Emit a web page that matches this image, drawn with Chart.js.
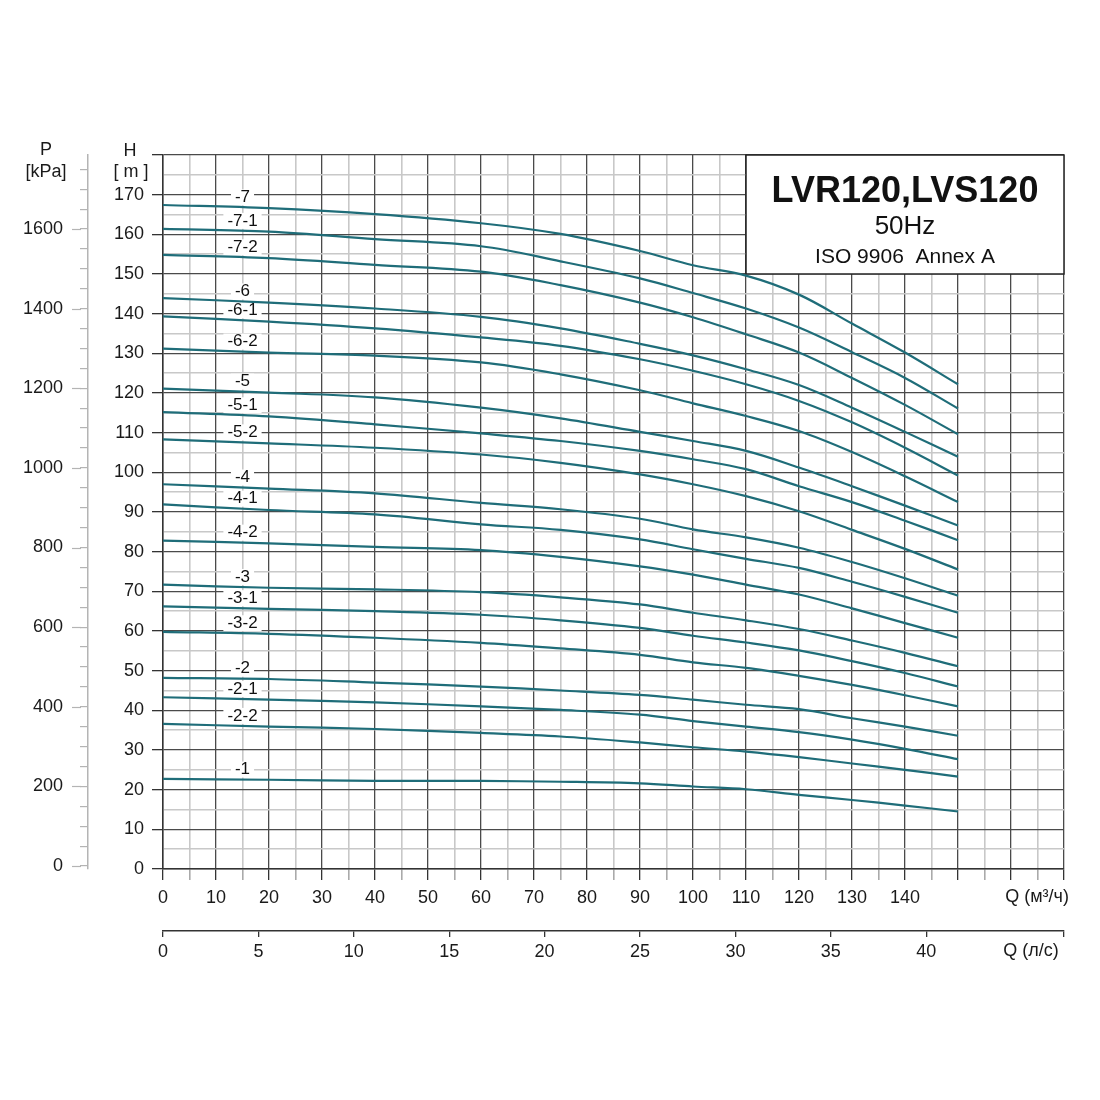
<!DOCTYPE html>
<html>
<head>
<meta charset="utf-8">
<title>LVR120, LVS120 50Hz</title>
<script src="https://cdn.jsdelivr.net/npm/chart.js@4.4.1/dist/chart.umd.min.js"></script>
<style>
  html, body { margin: 0; padding: 0; background: #fff; }
  #wrap { width: 1100px; height: 1100px; }
</style>
</head>
<body>
<div id="wrap"><canvas id="curves" width="1100" height="1100"></canvas></div>
<script>
// Q-H performance curves, LVR120 / LVS120, 50 Hz

const flow = [0, 20, 40, 60, 75, 90, 100, 110, 120, 130, 140, 150];   // m³/h

const head7   = [167.4, 166.6, 165.1, 162.8, 160.1, 155.8, 152.2, 149.6, 144.8, 137.5, 130.2, 122.2];
const head7_1 = [161.4, 160.7, 158.8, 157.0, 153.2, 148.9, 145.2, 141.3, 136.5, 130.3, 123.8, 116.1];
const head7_2 = [154.8, 154.0, 152.3, 150.6, 147.2, 142.8, 139.1, 134.8, 130.2, 123.8, 117.0, 109.6];
const head6   = [143.9, 142.8, 141.3, 139.2, 136.3, 132.4, 129.5, 126.0, 122.0, 116.3, 110.2, 103.9];
const head6_1 = [139.3, 138.0, 136.3, 134.0, 131.9, 128.5, 125.6, 122.2, 118.0, 112.6, 106.2, 99.2];
const head6_2 = [131.2, 130.2, 129.4, 127.7, 124.7, 120.7, 117.4, 114.2, 110.4, 105.1, 99.0, 92.5];
const head5   = [121.1, 120.1, 118.9, 116.3, 113.6, 110.2, 107.9, 105.4, 101.2, 96.5, 91.6, 86.6];
const head5_1 = [115.2, 114.1, 112.1, 109.8, 107.9, 105.4, 103.3, 100.8, 96.5, 92.5, 87.8, 82.9];
const head5_2 = [108.3, 107.3, 106.2, 104.5, 102.4, 99.5, 97.0, 94.0, 90.2, 85.5, 80.7, 75.5];
const head4   = [97.0, 95.9, 94.7, 92.3, 90.7, 88.3, 85.6, 83.6, 81.0, 77.4, 73.3, 68.9];
const head4_1 = [91.9, 90.5, 89.4, 86.9, 85.5, 83.1, 80.6, 78.2, 75.9, 72.4, 68.6, 64.6];
const head4_2 = [82.8, 82.1, 81.2, 80.4, 78.7, 76.3, 74.2, 71.7, 69.2, 65.7, 62.0, 58.3];
const head3   = [71.7, 70.9, 70.5, 69.8, 68.5, 66.7, 64.6, 62.7, 60.5, 57.6, 54.5, 51.1];
const head3_1 = [66.2, 65.6, 65.0, 64.1, 62.7, 60.8, 58.8, 57.1, 55.1, 52.4, 49.4, 46.0];
const head3_2 = [59.8, 59.3, 58.3, 57.0, 55.6, 54.0, 52.1, 50.7, 48.7, 46.4, 43.8, 41.0];
const head2   = [48.2, 47.9, 47.0, 46.0, 45.0, 43.9, 42.7, 41.4, 40.3, 38.0, 35.9, 33.6];
const head2_1 = [43.3, 42.7, 42.0, 41.0, 40.1, 38.9, 37.3, 35.9, 34.5, 32.6, 30.3, 27.7];
const head2_2 = [36.6, 35.9, 35.3, 34.3, 33.4, 31.9, 30.7, 29.6, 28.2, 26.6, 25.0, 23.3];
const head1   = [22.7, 22.5, 22.2, 22.2, 22.0, 21.6, 20.8, 20.1, 18.7, 17.4, 16.0, 14.5];

const curveNames = ['-7', '-7-1', '-7-2', '-6', '-6-1', '-6-2', '-5', '-5-1', '-5-2',
  '-4', '-4-1', '-4-2', '-3', '-3-1', '-3-2', '-2', '-2-1', '-2-2', '-1'];
const curves = [head7, head7_1, head7_2, head6, head6_1, head6_2, head5, head5_1, head5_2,
  head4, head4_1, head4_2, head3, head3_1, head3_2, head2, head2_1, head2_2, head1];

const lastFlowLabel = 140;     // m³/h ticks labelled up to here
const lastLpsLabel = 40;       // l/s ticks labelled up to here
const lastHeadLabel = 170;     // m
const lastKpaLabel = 1600;     // kPa

const FONT = "'Liberation Sans', Arial, sans-serif";
const LINE = '#1f6d79';
const MAJOR = '#4a4a4a';
const MINOR = '#c8c8c8';

Chart.defaults.font.family = FONT;
Chart.defaults.color = '#1a1a1a';

const isMajor = v => Math.abs(v % 10) < 1e-6;

const decor = {
  id: 'decor',
  beforeDatasetsDraw(chart) {
    const { ctx, scales: { x, y } } = chart;
    ctx.save();

    // title box in the top right corner
    const l = x.getPixelForValue(110), r = x.getPixelForValue(170);
    const t = y.getPixelForValue(180), b = y.getPixelForValue(150);
    ctx.fillStyle = '#fff';
    ctx.fillRect(l, t, r - l, b - t);
    ctx.strokeStyle = '#222';
    ctx.lineWidth = 1.5;
    ctx.strokeRect(l, t, r - l, b - t);
    const cx = (l + r) / 2;
    ctx.fillStyle = '#111';
    ctx.textAlign = 'center';
    ctx.textBaseline = 'alphabetic';
    ctx.font = 'bold 36px ' + FONT;
    ctx.fillText('LVR120,LVS120', cx, t + 47);
    ctx.font = '26px ' + FONT;
    ctx.fillText('50Hz', cx, t + 79);
    ctx.font = '21px ' + FONT;
    ctx.fillText('ISO 9906  Annex A', cx, t + 108);

    // curve names, just above each curve at Q = 15
    ctx.font = '17px ' + FONT;
    ctx.textBaseline = 'middle';
    curves.forEach((h, i) => {
      const hAt = h[0] + (h[1] - h[0]) * 0.75;
      const px = x.getPixelForValue(15);
      const py = y.getPixelForValue(hAt) - 10;
      const w = ctx.measureText(curveNames[i]).width;
      ctx.fillStyle = '#fff';
      ctx.fillRect(px - w / 2 - 4, py - 8, w + 8, 16);
      ctx.fillStyle = '#111';
      ctx.fillText(curveNames[i], px, py);
    });
    ctx.restore();
  },
  afterDraw(chart) {
    const { ctx, scales: { p } } = chart;
    ctx.save();
    // longer marks at labelled pressures
    ctx.strokeStyle = '#b4b4b4';
    ctx.lineWidth = 1.2;
    p.ticks.forEach(t => {
      if (t.value % 200 === 0 && t.value <= lastKpaLabel) {
        const yy = Math.round(p.getPixelForValue(t.value)) + 0.5;
        ctx.beginPath();
        ctx.moveTo(p.right - 16, yy);
        ctx.lineTo(p.right - 7, yy);
        ctx.stroke();
      }
    });

    ctx.fillStyle = '#1a1a1a';
    ctx.textAlign = 'center';
    ctx.textBaseline = 'middle';
    ctx.font = '18px ' + FONT;
    ctx.fillText('P', 46, 150);
    ctx.fillText('[kPa]', 46, 172);
    ctx.fillText('H', 130, 151);
    ctx.fillText('[ m ]', 131, 172);
    ctx.fillText('Q (м³/ч)', 1037, 897);
    ctx.fillText('Q (л/с)', 1031, 951);
    ctx.restore();
  }
};

const ctx = document.getElementById('curves').getContext('2d');
new Chart(ctx, {
  type: 'line',
  data: {
    datasets: curves.map((h, i) => ({
      label: curveNames[i],
      data: flow.map((q, j) => ({ x: q, y: h[j] })),
      borderColor: LINE,
      borderWidth: 2.2,
      pointRadius: 0,
      fill: false,
      tension: 0.35
    }))
  },
  options: {
    responsive: false,
    animation: false,
    events: [],
    layout: { padding: { left: 0, top: 155, right: 36, bottom: 109 } },
    plugins: { legend: { display: false }, tooltip: { enabled: false } },
    scales: {
      x: {
        type: 'linear',
        position: 'bottom',
        weight: 0,
        min: 0,
        max: 170,
        afterFit: s => { s.height = 62; },
        ticks: {
          stepSize: 5,
          autoSkip: false,
          maxRotation: 0,
          padding: 7,
          font: { size: 18 },
          callback: v => (isMajor(v) && v <= lastFlowLabel) ? v : ''
        },
        grid: {
          color: c => isMajor(c.tick.value) ? MAJOR : MINOR,
          lineWidth: c => isMajor(c.tick.value) ? 1.3 : 1.6,
          tickColor: c => isMajor(c.tick.value) ? '#333' : '#aaa',
          tickLength: 11
        },
        border: { color: '#333', width: 1.5 }
      },
      lps: {
        type: 'linear',
        position: 'bottom',
        weight: 1,
        min: 0,
        max: 170 / 3.6,
        afterFit: s => { s.height = 60; },
        ticks: {
          stepSize: 5,
          autoSkip: false,
          maxRotation: 0,
          padding: 4,
          font: { size: 18 },
          callback: v => v <= lastLpsLabel ? v : ''
        },
        grid: { drawOnChartArea: false, tickLength: 6, tickColor: '#333', lineWidth: 1.3 },
        border: { color: '#333', width: 1.5 }
      },
      y: {
        type: 'linear',
        position: 'left',
        weight: 0,
        min: 0,
        max: 180,
        afterFit: s => { s.width = 75; },
        ticks: {
          stepSize: 5,
          autoSkip: false,
          padding: 8,
          font: { size: 18 },
          callback: v => (isMajor(v) && v <= lastHeadLabel) ? v : ''
        },
        grid: {
          color: c => isMajor(c.tick.value) ? MAJOR : MINOR,
          lineWidth: c => isMajor(c.tick.value) ? 1.3 : 1.6,
          tickColor: c => isMajor(c.tick.value) ? '#333' : 'rgba(0,0,0,0)',
          tickLength: 11
        },
        border: { color: '#333', width: 1.5 }
      },
      p: {
        type: 'linear',
        position: 'left',
        weight: 1,
        min: -7.5,
        max: 1786,
        afterFit: s => { s.width = 88; },
        ticks: {
          stepSize: 50,
          includeBounds: false,
          autoSkip: false,
          padding: 17,
          font: { size: 18 },
          callback: v => (v % 200 === 0 && v <= lastKpaLabel) ? v : ''
        },
        grid: { drawOnChartArea: false, tickLength: 8, tickColor: '#b4b4b4', lineWidth: 1.2 },
        border: { color: '#b4b4b4', width: 1.5 }
      }
    }
  },
  plugins: [decor]
});
</script>
</body>
</html>
